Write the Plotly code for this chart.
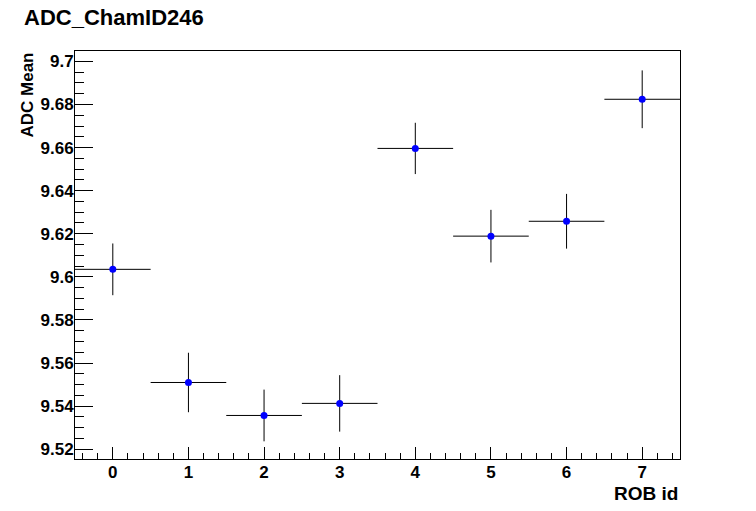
import plotly.graph_objects as go

rob_id = [0, 1, 2, 3, 4, 5, 6, 7]
adc_mean = [9.6035, 9.5510, 9.5357, 9.5413, 9.6596, 9.6189, 9.6258, 9.6824]
adc_err = [0.0120, 0.0138, 0.0120, 0.0131, 0.0119, 0.0122, 0.0127, 0.0134]
bin_half_width = [0.5] * 8

y_tick_vals = [9.52, 9.54, 9.56, 9.58, 9.60, 9.62, 9.64, 9.66, 9.68, 9.70]
y_tick_text = ["9.52", "9.54", "9.56", "9.58", "9.6", "9.62", "9.64", "9.66", "9.68", "9.7"]
x_tick_vals = [0, 1, 2, 3, 4, 5, 6, 7]

FONT = "Liberation Sans, Arial, sans-serif"
W, H = 756, 511

fig = go.Figure()
fig.add_trace(go.Scatter(
    x=rob_id, y=adc_mean, mode="markers",
    marker=dict(color="#0000ff", size=7, symbol="circle"),
    error_y=dict(type="data", array=adc_err, visible=True, color="black", thickness=1, width=0),
    error_x=dict(type="data", array=bin_half_width, visible=True, color="black", thickness=1, width=0),
    showlegend=False,
))

fig.update_layout(
    width=W, height=H,
    margin=dict(l=75, r=76, t=51, b=52),
    paper_bgcolor="white", plot_bgcolor="white",
    font=dict(family=FONT, color="black"),
    showlegend=False,
)

fig.update_xaxes(
    range=[-0.5, 7.5], tickmode="array", tickvals=x_tick_vals,
    ticktext=[f"<b>{v}</b>" for v in x_tick_vals],
    ticks="inside", ticklen=12, tickwidth=1, tickcolor="black",
    minor=dict(tickmode="linear", tick0=0, dtick=0.2, ticks="inside", ticklen=6, tickwidth=1, tickcolor="black", showgrid=False),
    showline=True, linecolor="black", linewidth=1, mirror=True,
    showgrid=False, zeroline=False,
    tickfont=dict(size=17, family=FONT, color="black"),
    ticklabelstandoff=-2,
)
fig.update_yaxes(
    range=[9.5155, 9.7048], tickmode="array", tickvals=y_tick_vals,
    ticktext=[f"<b>{t}</b>" for t in y_tick_text],
    ticks="inside", ticklen=18, tickwidth=1, tickcolor="black",
    minor=dict(tickmode="linear", tick0=9.52, dtick=0.005, ticks="inside", ticklen=9, tickwidth=1, tickcolor="black", showgrid=False),
    showline=True, linecolor="black", linewidth=1, mirror=True,
    showgrid=False, zeroline=False,
    tickfont=dict(size=17, family=FONT, color="black"),
    ticklabelstandoff=-3,
)

# chart title
fig.add_annotation(text="<b>ADC_ChamID246</b>", xref="paper", yref="paper", x=0, y=1,
                   xanchor="left", yanchor="middle", xshift=-53, yshift=34, showarrow=False,
                   font=dict(size=22, family=FONT, color="black"))
fig.add_annotation(text="<b>ROB id</b>", xref="paper", yref="paper", x=1, y=0,
                   xanchor="right", yanchor="middle", yshift=-34, showarrow=False,
                   font=dict(size=19, family=FONT, color="black"))
fig.add_annotation(text="<b>ADC Mean</b>", xref="paper", yref="paper", x=0, y=1,
                   xanchor="center", yanchor="top", xshift=-48, showarrow=False, textangle=-90,
                   font=dict(size=17, family=FONT, color="black"))

fig.write_html("out.html", config={"displayModeBar": False},
               post_script="document.body.style.margin='0';")
